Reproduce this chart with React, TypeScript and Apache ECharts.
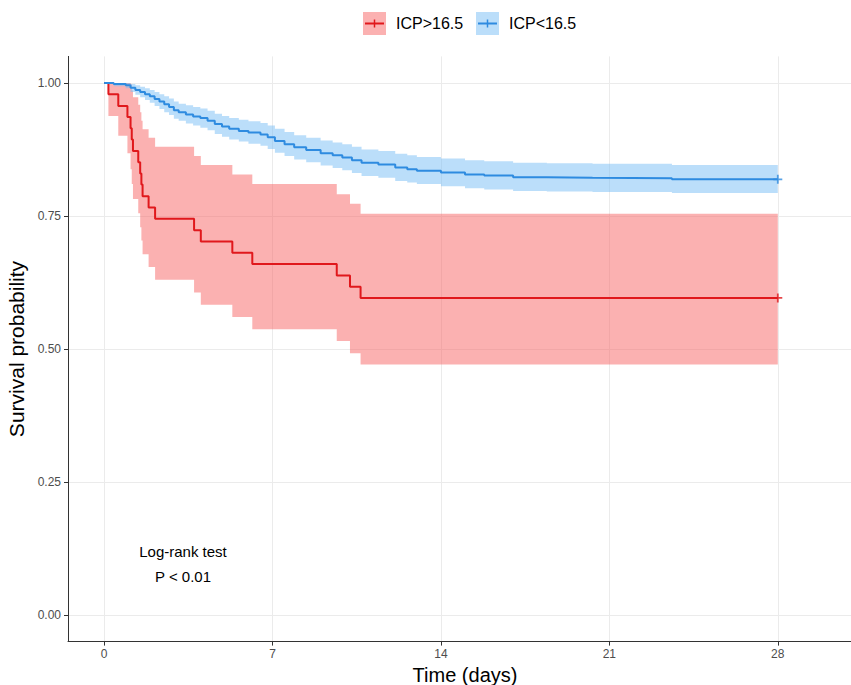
import React, { useEffect, useRef } from "react";
import * as echarts from "echarts";

const xTicks = [0, 7, 14, 21, 28];
const yTicks = [0, 0.25, 0.5, 0.75, 1];

const groupNames = ["ICP>16.5", "ICP<16.5"];

// ICP>16.5 (red)
const redTime = [0, 0.18, 0.59, 0.97, 1.1, 1.15, 1.2, 1.42, 1.5, 1.55, 1.6, 1.85, 2.12, 3.74, 4.02, 5.33, 6.16, 9.67, 10.22, 10.66, 28];
const redSurv = [1, 0.979, 0.957, 0.936, 0.915, 0.894, 0.872, 0.851, 0.83, 0.809, 0.787, 0.766, 0.745, 0.723, 0.702, 0.681, 0.66, 0.638, 0.617, 0.596, 0.596];
const redLower = [1, 0.938, 0.901, 0.868, 0.838, 0.81, 0.782, 0.755, 0.729, 0.704, 0.678, 0.654, 0.63, 0.606, 0.583, 0.56, 0.537, 0.515, 0.492, 0.471, 0.471];
const redUpper = [1, 1, 1, 1, 0.998, 0.986, 0.973, 0.959, 0.945, 0.929, 0.913, 0.897, 0.88, 0.863, 0.846, 0.828, 0.81, 0.791, 0.773, 0.754, 0.754];

// ICP<16.5 (blue)
const blueTime = [0, 0.4, 0.9, 1.1, 1.3, 1.5, 1.7, 1.9, 2.1, 2.3, 2.5, 2.7, 2.9, 3.1, 3.4, 3.7, 4.0, 4.3, 4.6, 4.9, 5.2, 5.6, 6.0, 6.5, 6.8, 7.1, 7.5, 7.9, 8.4, 9.0, 9.5, 9.9, 10.3, 10.7, 11.4, 12.1, 12.6, 13.0, 14.0, 15.0, 15.8, 17.0, 18.4, 20.3, 23.6, 28];
const blueSurv = [1, 0.998, 0.996, 0.991, 0.987, 0.983, 0.979, 0.975, 0.97, 0.965, 0.96, 0.955, 0.949, 0.945, 0.941, 0.937, 0.934, 0.929, 0.923, 0.918, 0.914, 0.91, 0.907, 0.903, 0.898, 0.891, 0.885, 0.879, 0.874, 0.868, 0.864, 0.86, 0.855, 0.85, 0.847, 0.841, 0.838, 0.835, 0.832, 0.828, 0.826, 0.823, 0.822, 0.821, 0.819, 0.819];
const blueLower = [1, 0.994, 0.99, 0.983, 0.978, 0.973, 0.968, 0.963, 0.957, 0.951, 0.945, 0.94, 0.933, 0.929, 0.924, 0.92, 0.916, 0.911, 0.904, 0.899, 0.894, 0.89, 0.886, 0.882, 0.876, 0.869, 0.863, 0.856, 0.851, 0.845, 0.84, 0.836, 0.831, 0.825, 0.822, 0.816, 0.813, 0.81, 0.806, 0.802, 0.8, 0.797, 0.796, 0.795, 0.793, 0.793];
const blueUpper = [1, 1, 1, 0.998, 0.996, 0.993, 0.99, 0.987, 0.983, 0.979, 0.975, 0.971, 0.965, 0.961, 0.958, 0.955, 0.952, 0.948, 0.942, 0.938, 0.934, 0.931, 0.928, 0.925, 0.92, 0.914, 0.908, 0.902, 0.897, 0.892, 0.888, 0.885, 0.88, 0.875, 0.872, 0.867, 0.864, 0.861, 0.858, 0.855, 0.853, 0.85, 0.849, 0.848, 0.846, 0.846];

const FONT = "'Liberation Sans', Arial, Helvetica, sans-serif";
const RED = "#E0181C";
const BLUE = "#2E8BE0";
const RED_FILL = "rgba(248,100,100,0.5)";
const BLUE_FILL = "rgba(120,190,245,0.5)";
const PLUS = "path://M4,0H6V4H10V6H6V10H4V6H0V4H4Z";

function bandSeries(t: number[], lo: number[], hi: number[], fill: string) {
  return {
    type: "custom",
    silent: true,
    z: 1,
    data: [[t[0], lo[0]]],
    renderItem: (_params: any, api: any) => {
      const pts: number[][] = [];
      const n = t.length;
      for (let i = 0; i < n; i++) {
        pts.push(api.coord([t[i], hi[i]]));
        if (i < n - 1) pts.push(api.coord([t[i + 1], hi[i]]));
      }
      for (let i = n - 1; i >= 0; i--) {
        if (i < n - 1) pts.push(api.coord([t[i + 1], lo[i]]));
        pts.push(api.coord([t[i], lo[i]]));
      }
      return { type: "polygon", shape: { points: pts }, style: { fill } };
    },
  };
}

export default function App() {
  const ref = useRef<HTMLDivElement>(null);
  useEffect(() => {
    const chart = echarts.init(ref.current!, null, { renderer: "svg" });
    const pair = (t: number[], v: number[]) => t.map((x, i) => [x, v[i]]);
    const last = (t: number[], v: number[]) => [[t[t.length - 1], v[v.length - 1]]];

    chart.setOption({
      animation: false,
      backgroundColor: "#fff",
      grid: { left: 68, top: 56.4, width: 794, height: 585.2, outerBoundsMode: "none" },
      xAxis: {
        type: "value",
        min: -1.5,
        max: 31.5,
        axisLine: { show: true, onZero: false, lineStyle: { color: "#333", width: 1 } },
        axisTick: { show: true, length: 4, customValues: xTicks, lineStyle: { color: "#333" } },
        axisLabel: { customValues: xTicks, color: "#4D4D4D", fontSize: 12, margin: 6, fontFamily: FONT },
        splitLine: { show: true, lineStyle: { color: "#EBEBEB", width: 1 } },
        name: "Time (days)",
        nameLocation: "middle",
        nameGap: 20,
        nameTextStyle: { fontSize: 20, color: "#000", fontFamily: FONT },
      },
      yAxis: {
        type: "value",
        min: -0.05,
        max: 1.05,
        axisLine: { show: true, onZero: false, lineStyle: { color: "#333", width: 1 } },
        axisTick: { show: true, length: 4, customValues: yTicks, lineStyle: { color: "#333" } },
        axisLabel: {
          customValues: yTicks,
          color: "#4D4D4D",
          fontSize: 12,
          margin: 7,
          fontFamily: FONT,
          formatter: (v: number) => v.toFixed(2),
        },
        splitLine: { show: true, lineStyle: { color: "#EBEBEB", width: 1 } },
        name: "Survival probability",
        nameLocation: "middle",
        nameGap: 38,
        nameTextStyle: { fontSize: 21, color: "#000", fontFamily: FONT },
      },
      series: [
        bandSeries(redTime, redLower, redUpper, RED_FILL),
        bandSeries(blueTime, blueLower, blueUpper, BLUE_FILL),
        {
          type: "line", name: groupNames[0], data: pair(redTime, redSurv), step: "end",
          symbol: "none", lineStyle: { color: RED, width: 2 }, z: 3,
        },
        {
          type: "line", name: groupNames[1], data: pair(blueTime, blueSurv), step: "end",
          symbol: "none", lineStyle: { color: BLUE, width: 2 }, z: 3,
        },
        {
          type: "scatter", data: last(redTime, redSurv), symbol: PLUS, symbolSize: 9,
          itemStyle: { color: RED }, z: 4, silent: true,
        },
        {
          type: "scatter", data: last(blueTime, blueSurv), symbol: PLUS, symbolSize: 9,
          itemStyle: { color: BLUE }, z: 4, silent: true,
        },
      ],
      graphic: [
        { type: "rect", shape: { x: 363, y: 12, width: 23, height: 23 }, style: { fill: RED_FILL } },
        { type: "line", shape: { x1: 365, y1: 23.5, x2: 384, y2: 23.5 }, style: { stroke: RED, lineWidth: 2 } },
        { type: "line", shape: { x1: 374.5, y1: 19.5, x2: 374.5, y2: 27.5 }, style: { stroke: RED, lineWidth: 1.5 } },
        {
          type: "text", x: 396, y: 23.5,
          style: { text: groupNames[0], fontSize: 16, fontFamily: FONT, fill: "#000", verticalAlign: "middle", align: "left" },
        },
        { type: "rect", shape: { x: 476, y: 12, width: 23, height: 23 }, style: { fill: BLUE_FILL } },
        { type: "line", shape: { x1: 478, y1: 23.5, x2: 497, y2: 23.5 }, style: { stroke: BLUE, lineWidth: 2 } },
        { type: "line", shape: { x1: 487.5, y1: 19.5, x2: 487.5, y2: 27.5 }, style: { stroke: BLUE, lineWidth: 1.5 } },
        {
          type: "text", x: 509, y: 23.5,
          style: { text: groupNames[1], fontSize: 16, fontFamily: FONT, fill: "#000", verticalAlign: "middle", align: "left" },
        },
        {
          type: "text", x: 183, y: 551,
          style: { text: "Log-rank test", fontSize: 15, fontFamily: FONT, fill: "#000", align: "center", verticalAlign: "middle" },
        },
        {
          type: "text", x: 183, y: 576,
          style: { text: "P < 0.01", fontSize: 15, fontFamily: FONT, fill: "#000", align: "center", verticalAlign: "middle" },
        },
      ],
    });
    return () => chart.dispose();
  }, []);
  return <div ref={ref} style={{ position: "fixed", left: 0, top: 0, width: 851, height: 685 }} />;
}
